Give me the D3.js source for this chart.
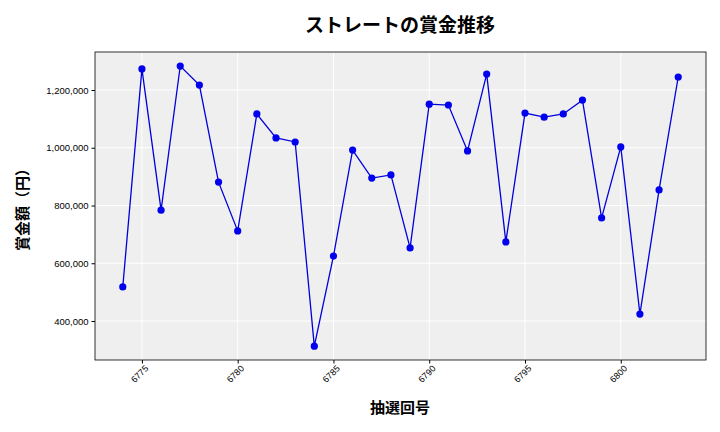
<!DOCTYPE html>
<html><head><meta charset="utf-8">
<script src="https://cdn.jsdelivr.net/npm/d3@7"></script>
<style>
body { margin: 0; background: #fff; font-family: "Noto Sans CJK JP", "DejaVu Sans", sans-serif; }
</style></head>
<body><svg id="chart" width="720" height="432"></svg>
<script>
// draw numbers (抽選回)
var draws = d3.range(6774, 6804);
// prize per draw, yen
var prizes = [518000, 1273000, 784000, 1283000, 1217000, 881000, 712000, 1117000, 1034000, 1020000,
    313000, 625000, 992000, 895000, 906000, 653000, 1151000, 1148000, 989000, 1255000,
    674000, 1120000, 1106000, 1117000, 1165000, 757000, 1003000, 424000, 854000, 1245000];
var xTicks = [6775, 6780, 6785, 6790, 6795, 6800];
var yTicks = [400000, 600000, 800000, 1000000, 1200000];

var svg = d3.select('#chart');
var mLeft = 95, mRight = 706, mTop = 52, mBottom = 360;

var x = d3.scaleLinear().domain([6772.55, 6804.45]).range([mLeft, mRight]);
var y = d3.scaleLinear().domain([265000, 1331600]).range([mBottom, mTop]);

svg.append('rect').attr('x', mLeft).attr('y', mTop)
    .attr('width', mRight - mLeft).attr('height', mBottom - mTop)
    .attr('fill', '#efefef');

// grid
svg.selectAll('.gx').data(xTicks).enter().append('line')
    .attr('x1', function(d) { return x(d); }).attr('x2', function(d) { return x(d); })
    .attr('y1', mTop).attr('y2', mBottom).attr('stroke', '#fff').attr('stroke-width', 1);
svg.selectAll('.gy').data(yTicks).enter().append('line')
    .attr('x1', mLeft).attr('x2', mRight)
    .attr('y1', function(d) { return y(d); }).attr('y2', function(d) { return y(d); })
    .attr('stroke', '#fff').attr('stroke-width', 1);

svg.append('rect').attr('x', mLeft).attr('y', mTop)
    .attr('width', mRight - mLeft).attr('height', mBottom - mTop)
    .attr('fill', 'none').attr('stroke', '#000').attr('stroke-width', 0.8);

var xAxis = svg.append('g').attr('transform', 'translate(0,' + mBottom + ')')
    .call(d3.axisBottom(x).tickValues(xTicks).tickSize(3.5).tickFormat(d3.format('d')));
xAxis.select('.domain').remove();
xAxis.selectAll('text')
    .attr('font-size', 9).attr('text-anchor', 'end')
    .attr('transform', 'rotate(-45)').attr('dx', '-0.2em').attr('dy', '0.5em');

var yAxis = svg.append('g').attr('transform', 'translate(' + mLeft + ',0)')
    .call(d3.axisLeft(y).tickValues(yTicks).tickSize(3.5).tickFormat(d3.format(',')));
yAxis.select('.domain').remove();
yAxis.selectAll('text').attr('font-size', 9.5);

var line = d3.line()
    .x(function(d, i) { return x(draws[i]); })
    .y(function(d) { return y(d); });
svg.append('path').datum(prizes).attr('d', line)
    .attr('fill', 'none').attr('stroke', '#0000dd').attr('stroke-width', 1.3);
svg.selectAll('.pt').data(prizes).enter().append('circle')
    .attr('cx', function(d, i) { return x(draws[i]); })
    .attr('cy', function(d) { return y(d); })
    .attr('r', 3.6).attr('fill', '#0000ee');

svg.append('text').attr('x', 400).attr('y', 32).attr('text-anchor', 'middle')
    .attr('font-size', 19).attr('font-weight', 'bold').text('ストレートの賞金推移');
svg.append('text').attr('x', 400).attr('y', 413).attr('text-anchor', 'middle')
    .attr('font-size', 15).attr('font-weight', 'bold').text('抽選回号');
svg.append('text').attr('transform', 'translate(28,' + ((mTop + mBottom) / 2) + ') rotate(-90)')
    .attr('text-anchor', 'middle').attr('font-size', 15).attr('font-weight', 'bold').text('賞金額（円）');
</script></body></html>
